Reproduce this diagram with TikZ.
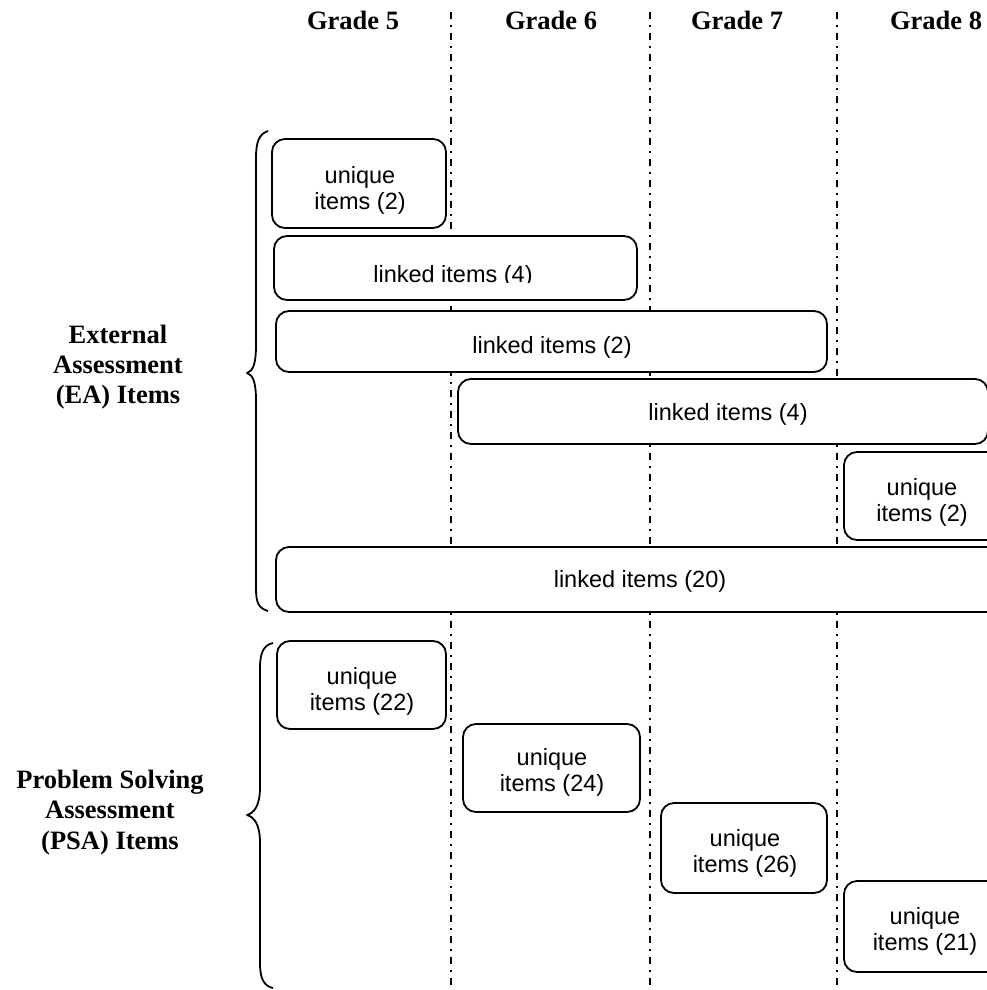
\documentclass[tikz,border=0pt]{standalone}
\usepackage{fontspec}
\setmainfont{Liberation Serif}
\newfontfamily\arialfont{Liberation Sans}
\begin{document}
\begin{tikzpicture}[x=1pt,y=-1pt,
  gline/.style={line width=1.5pt, dash pattern=on 7pt off 6pt on 2pt off 6pt},
  itembox/.style={draw, line width=1.8pt, rounded corners=13pt, fill=white, inner sep=0pt},
  itemtxt/.style={font=\arialfont\fontsize{23.5}{26.3}\selectfont, anchor=base, inner sep=0pt},
  hdr/.style={font=\bfseries\fontsize{26.5}{30}\selectfont, anchor=base, inner sep=0pt},
  bracepath/.style={line width=1.8pt, line join=round},
]
\useasboundingbox (0,0) rectangle (987,990);
\clip (0,0) rectangle (987,990);

% grade separators
\foreach \gx/\gn in {451/a,650/b,837/c}{
  \coordinate (top\gn) at (\gx,12);
  \coordinate (bot\gn) at (\gx,990);
  \draw[gline] (top\gn) -- (bot\gn);
}

% headers
\node[hdr] (g5) at (353,30) {Grade 5};
\node[hdr] (g6) at (551,30) {Grade 6};
\node[hdr] (g7) at (737,30) {Grade 7};
\node[hdr] (g8) at (936,30) {Grade 8};

% side labels
\node[hdr] (ea) at (118,343) {\begin{tabular}[t]{@{}c@{}}External\\Assessment\\(EA) Items\end{tabular}};
\node[hdr, font=\bfseries\fontsize{26.5}{30.5}\selectfont] (psa) at (110,788) {\begin{tabular}[t]{@{}c@{}}Problem Solving\\Assessment\\(PSA) Items\end{tabular}};

% braces
\draw[bracepath] (268,131) .. controls (259,134) and (256,142) .. (256,158)
  -- (256,345) .. controls (256,364) and (253,371) .. (247,373)
  .. controls (253,375) and (256,382) .. (256,401)
  -- (256,588) .. controls (256,604) and (259,608) .. (268,611);
\draw[bracepath] (273,643) .. controls (264,645) and (260,652) .. (260,668)
  -- (260,787) .. controls (260,806) and (254,813) .. (247,815)
  .. controls (254,817) and (260,824) .. (260,843)
  -- (260,963) .. controls (260,979) and (264,986) .. (273,988);

% EA boxes
\node[itembox, minimum width=174pt, minimum height=89pt] (u2) at (359,183.5) {};
\node[itemtxt] (tu2) at (360,183) {\begin{tabular}[t]{@{}c@{}}unique\\items (2)\end{tabular}};

\node[itembox, minimum width=363pt, minimum height=64pt] (l4a) at (455.5,268) {};
\begin{scope}
  \clip (274,236) rectangle (637,282);
  \node[itemtxt] (tl4a) at (453,282) {linked items (4)};
\end{scope}

\node[itembox, minimum width=551pt, minimum height=61pt] (l2) at (551.5,341.5) {};
\node[itemtxt] (tl2) at (552,353) {linked items (2)};

\node[itembox, minimum width=530pt, minimum height=65pt] (l4b) at (723,411.5) {};
\node[itemtxt] (tl4b) at (728,420.7) {linked items (4)};

\node[itembox, minimum width=156pt, minimum height=88pt] (u2b) at (922,496) {};
\node[itemtxt] (tu2b) at (922,495) {\begin{tabular}[t]{@{}c@{}}unique\\items (2)\end{tabular}};

\node[itembox, minimum width=726pt, minimum height=65pt] (l20) at (639,579.5) {};
\node[itemtxt] (tl20) at (640,587) {linked items (20)};

% PSA boxes
\node[itembox, minimum width=169pt, minimum height=88pt] (u22) at (361.5,685) {};
\node[itemtxt] (tu22) at (362,684) {\begin{tabular}[t]{@{}c@{}}unique\\items (22)\end{tabular}};

\node[itembox, minimum width=177pt, minimum height=88pt] (u24) at (551.5,768) {};
\node[itemtxt] (tu24) at (552,765) {\begin{tabular}[t]{@{}c@{}}unique\\items (24)\end{tabular}};

\node[itembox, minimum width=166pt, minimum height=90pt] (u26) at (744,848) {};
\node[itemtxt] (tu26) at (745,846) {\begin{tabular}[t]{@{}c@{}}unique\\items (26)\end{tabular}};

\node[itembox, minimum width=156pt, minimum height=91pt] (u21) at (922,926.5) {};
\node[itemtxt] (tu21) at (925,924) {\begin{tabular}[t]{@{}c@{}}unique\\items (21)\end{tabular}};
\end{tikzpicture}
\end{document}
